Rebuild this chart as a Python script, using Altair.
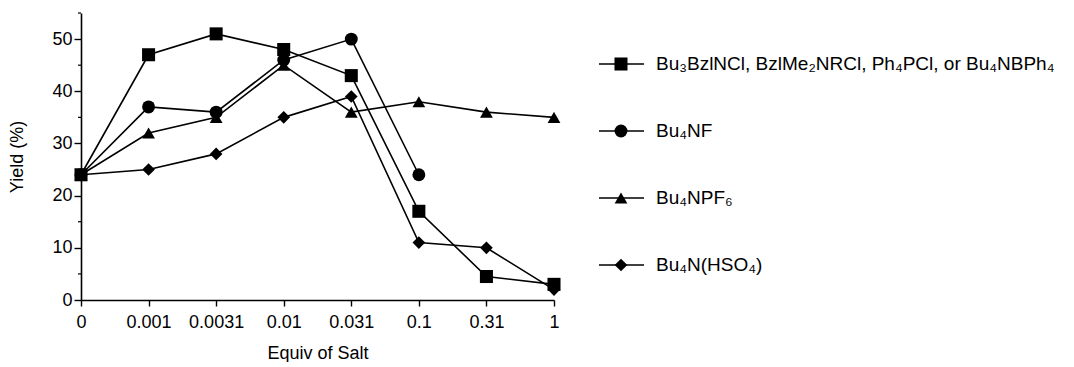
import altair as alt
import pandas as pd

equiv = ["0", "0.001", "0.0031", "0.01", "0.031", "0.1", "0.31", "1"]
series_names = ["Bu\u2083BzlNCl, BzlMe\u2082NRCl, Ph\u2084PCl, or Bu\u2084NBPh\u2084",
                "Bu\u2084NF", "Bu\u2084NPF\u2086", "Bu\u2084N(HSO\u2084)"]
square_vals = [24, 47, 51, 48, 43, 17, 4.5, 3]
circle_vals = [24, 37, 36, 46, 50, 24, None, None]
triangle_vals = [24, 32, 35, 45, 36, 38, 36, 35]
diamond_vals = [24, 25, 28, 35, 39, 11, 10, 2]
shapes = ["square", "circle", "triangle-up", "diamond"]
sizes = [170, 160, 190, 230]
y_ticks = [0, 10, 20, 30, 40, 50]
y_minor = [5, 15, 25, 35, 45, 55]

rows = []
for name, vals in zip(series_names, [square_vals, circle_vals, triangle_vals, diamond_vals]):
    for e, v in zip(equiv, vals):
        if v is not None:
            rows.append({"equiv": e, "yield": v, "series": name})
df = pd.DataFrame(rows)
leg_df = pd.DataFrame({"series": series_names})
minor_df = pd.DataFrame({"v": y_minor})

FONT = "Liberation Sans"
FS = 18
shape_scale = alt.Scale(domain=series_names, range=shapes)
size_scale = alt.Scale(domain=series_names, range=sizes)

x_enc = alt.X("equiv:O", sort=equiv,
              scale=alt.Scale(domain=equiv, type="point", padding=0),
              axis=alt.Axis(title="Equiv of Salt", labelAngle=0, tickSize=6,
                            labelPadding=7, titlePadding=13))
y_scale = alt.Scale(domain=[0, 55], nice=False)
y_enc = alt.Y("yield:Q", scale=y_scale,
              axis=alt.Axis(title="Yield (%)", values=y_ticks, tickSize=7,
                            labelPadding=2, titlePadding=25, grid=False))

lines = alt.Chart(df).mark_line(color="black", strokeWidth=1.6).encode(
    x=x_enc, y=y_enc, detail="series:N")
points = alt.Chart(df).mark_point(filled=True, color="black", opacity=1).encode(
    x=x_enc, y=y_enc,
    shape=alt.Shape("series:N", scale=shape_scale, legend=None),
    size=alt.Size("series:N", scale=size_scale, legend=None))
minor = alt.Chart(minor_df).mark_rule(color="black", strokeWidth=1.2).encode(
    y=alt.Y("v:Q", scale=y_scale), x=alt.value(-3), x2=alt.value(0))

plot = alt.layer(lines, points, minor).properties(width=473, height=287)

leg_y = alt.Y("series:N", sort=series_names,
              scale=alt.Scale(domain=series_names, type="point", padding=0, range=[51, 252]),
              axis=None)
leg_rule = alt.Chart(leg_df).mark_rule(color="black", strokeWidth=1.6).encode(
    y=leg_y, x=alt.value(0), x2=alt.value(45))
leg_pts = alt.Chart(leg_df).mark_point(filled=True, color="black", opacity=1).encode(
    y=leg_y, x=alt.value(22),
    shape=alt.Shape("series:N", scale=shape_scale, legend=None),
    size=alt.Size("series:N", scale=size_scale, legend=None))
leg_txt = alt.Chart(leg_df).mark_text(align="left", baseline="middle", font=FONT,
                                      fontSize=19, color="black").encode(
    y=leg_y, x=alt.value(57), text="series:N")
legend = alt.layer(leg_rule, leg_pts, leg_txt).properties(width=420, height=287)

chart = alt.hconcat(plot, legend, spacing=37).resolve_scale(
    shape="independent", size="independent", y="independent"
).properties(
    padding={"left": 8, "top": 12, "right": 0, "bottom": 0}
).configure_view(stroke=None).configure_axis(
    labelFont=FONT, titleFont=FONT, labelFontSize=FS, titleFontSize=18,
    titleFontWeight="normal", labelColor="black", titleColor="black",
    domainColor="black", tickColor="black", domainWidth=1.6, tickWidth=1.4
)

chart.save("out.html", embed_options={"renderer": "svg", "actions": False})
